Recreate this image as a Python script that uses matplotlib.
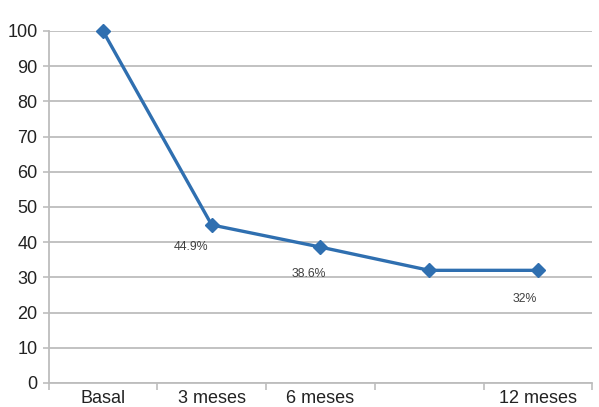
import matplotlib
matplotlib.use("Agg")
import matplotlib.pyplot as plt
from matplotlib.ticker import FixedLocator

plt.rcParams['font.family'] = ['Liberation Sans', 'DejaVu Sans']

categories = ["Basal", "3 meses", "6 meses", "", "12 meses"]
values = [100, 44.9, 38.6, 32, 32]
point_labels = ["", "44.9%", "38.6%", "", "32%"]
y_ticks = [0, 10, 20, 30, 40, 50, 60, 70, 80, 90, 100]

line_color = "#2F6FB0"
grid_color = "#BDBDBD"

fig = plt.figure(figsize=(5.99, 4.07), dpi=100)
ax = fig.add_axes([0.081, 0.059, 0.908, 0.865])

x = list(range(len(categories)))
ax.plot(x, values, color=line_color, lw=2.4, marker="D", ms=7,
        markerfacecolor=line_color, markeredgecolor=line_color, zorder=3,
        clip_on=False)

# data labels placed below-left of their points (offsets in pixels)
offsets = {1: (-21, -22), 2: (-12, -27), 4: (-13, -29)}
for i, lab in enumerate(point_labels):
    if not lab:
        continue
    dx, dy = offsets[i]
    ax.annotate(lab, (x[i], values[i]), xytext=(dx * 0.72, dy * 0.72),
                textcoords="offset points", ha="center", va="center",
                fontsize=8.8, color="#404040")

ax.set_xlim(-0.5, len(categories) - 0.5)
ax.set_ylim(0, 100)
ax.set_yticks(y_ticks)
ax.yaxis.grid(True, color=grid_color, lw=1.3)
ax.set_axisbelow(True)

ax.set_xticks(x)
ax.set_xticklabels(categories)
ax.xaxis.set_minor_locator(FixedLocator([i - 0.5 for i in range(len(categories) + 1)]))
ax.tick_params(axis="x", which="major", length=0, pad=5, labelsize=13, labelcolor="#222222")
ax.tick_params(axis="x", which="minor", length=5, width=1.2, color=grid_color, direction="out")
ax.tick_params(axis="y", which="major", length=4, width=1.2, color=grid_color, pad=4,
               labelsize=13, labelcolor="#222222")

for side in ("top", "right"):
    ax.spines[side].set_visible(False)
for side in ("left", "bottom"):
    ax.spines[side].set_color(grid_color)
    ax.spines[side].set_linewidth(1.3)

fig.savefig("out.png", dpi=100)
